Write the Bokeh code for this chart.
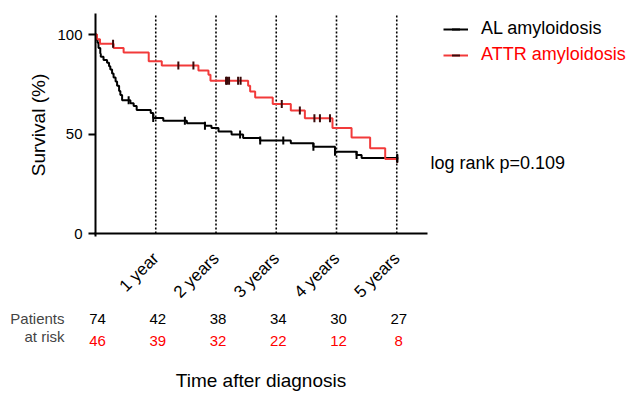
import math
import numpy as np
from bokeh.plotting import figure
from bokeh.core.properties import value
from bokeh.models import (Range1d, FixedTicker, Label, LabelSet, Legend,
                          LegendItem, ColumnDataSource)
from bokeh.embed import file_html
from bokeh.resources import INLINE

# ---------------- data (months after diagnosis, survival %) ----------------
AL_months = [0, 0.2, 0.4, 0.6, 0.95, 1.05, 1.6, 2.3, 2.7, 2.95, 3.3, 3.6, 4.0, 4.3,
             4.7, 4.95, 5.3, 6.95, 7.6, 8.2, 11.0, 11.5, 13.5, 18.2, 21.8, 23.1,
             24.5, 27.1, 29.4, 32.8, 38.9, 43.4, 47.7, 52.0, 53.0, 60.3]
AL_surv = [100, 97.3, 95.9, 93.2, 90.5, 88.8, 87.2, 85.8, 84.1, 82.4, 80.4, 78.4,
           76.4, 74.3, 71.6, 69.6, 66.9, 65.5, 64.1, 62.1, 60.6, 58.1, 56.7, 55.4,
           54.2, 53.0, 51.3, 49.7, 48.0, 46.7, 45.3, 43.6, 41.1, 39.5, 38.0, 38.0]
AL_censored = [6.6, 11.5, 17.8, 21.8, 28.8, 32.8, 37.4, 43.4, 47.7, 52.0, 60.1]

ATTR_months = [0, 0.3, 0.9, 3.6, 5.6, 10.6, 13.2, 20.5, 22.5, 22.9, 30.4, 30.8,
               31.8, 35.3, 38.9, 41.7, 47.2, 51.0, 54.7, 57.7, 60.3]
ATTR_surv = [100, 97.6, 95.3, 93.2, 90.9, 86.5, 84.4, 81.9, 79.8, 76.8, 74.3, 71.3,
             68.4, 65.1, 61.8, 57.9, 53.0, 48.3, 42.9, 37.4, 37.4]
ATTR_censored = [3.5, 16.5, 19.5, 26.0, 26.2, 26.6, 28.4, 28.9, 37.1, 40.7, 43.6,
                 44.7, 46.7, 60.1]

year_ticks = [12, 24, 36, 48, 60]
year_labels = ["1 year", "2 years", "3 years", "4 years", "5 years"]

risk_times = [0, 12, 24, 36, 48, 60]
AL_at_risk = [74, 42, 38, 34, 30, 27]
ATTR_at_risk = [46, 39, 32, 22, 12, 8]

series_names = ["AL amyloidosis", "ATTR amyloidosis"]
p_value_text = "log rank p=0.109"

# ---------------- layout ----------------
FONT = "Liberation Sans"
RED_LINE = "#F23A3A"
RED_TEXT = "#FF0000"
W, H = 630, 394
X0_PX, Y0_PX = 95.0, 233.0       # canvas pixel of (0 months, 0 %)
PXM = 60.25 / 12                  # pixels per month
PXP = 1.99                        # pixels per percent
X_END = (427 - X0_PX) / PXM       # right end of the x axis
Y_END = (Y0_PX - 13) / PXP        # top end of the y axis


def xd(px):
    return (px - X0_PX) / PXM


def yd(py):
    return (Y0_PX - py) / PXP


def step_value(months, surv, t):
    i = int(np.searchsorted(months, t, side="right")) - 1
    return surv[i]


p = figure(width=W, height=H, output_backend="svg", toolbar_location=None,
           x_range=Range1d(xd(0), xd(W)), y_range=Range1d(yd(H), yd(0)),
           min_border_left=0, min_border_right=0, min_border_top=0, min_border_bottom=0)
p.outline_line_color = None
p.grid.visible = False

# dotted year lines
p.segment(x0=year_ticks, y0=[0] * len(year_ticks), x1=year_ticks,
          y1=[Y_END] * len(year_ticks), line_color="black", line_width=1.6,
          line_dash="2 2")

# curves
al_line = p.step(AL_months, AL_surv, mode="after", line_color="black", line_width=2)
attr_line = p.step(ATTR_months, ATTR_surv, mode="after", line_color=RED_LINE, line_width=2)

al_cy = [step_value(AL_months, AL_surv, t) for t in AL_censored]
attr_cy = [step_value(ATTR_months, ATTR_surv, t) for t in ATTR_censored]
attr_ticks = p.scatter(ATTR_censored, attr_cy, marker="dash", size=8, angle=math.pi / 2,
                       line_color="#3a0a0a", line_width=2)
al_ticks = p.scatter(AL_censored, al_cy, marker="dash", size=8, angle=math.pi / 2,
                     line_color="black", line_width=2)

# axes drawn at the data origin
yax = p.yaxis[0]
yax.fixed_location = 0
yax.bounds = (-1.3, Y_END)
yax.ticker = FixedTicker(ticks=[0, 50, 100])
yax.axis_label = "Survival (%)"
yax.axis_label_text_font = FONT
yax.axis_label_text_font_size = "19px"
yax.axis_label_text_font_style = "normal"
yax.axis_label_text_color = "black"
yax.axis_label_standoff = 5
yax.major_label_text_font = FONT
yax.major_label_text_font_size = "15px"
yax.major_label_text_color = "black"
yax.axis_line_width = 2
yax.major_tick_line_width = 2
yax.major_tick_out = 7
yax.major_tick_in = 0
yax.minor_tick_line_color = None
yax.major_label_standoff = 6

xax = p.xaxis[0]
xax.fixed_location = 0
xax.bounds = (-0.2, X_END)
xax.ticker = FixedTicker(ticks=year_ticks)
xax.major_label_overrides = {t: s for t, s in zip(year_ticks, year_labels)}
xax.major_label_orientation = math.pi / 4
xax.major_label_text_font = FONT
xax.major_label_text_font_size = "17px"
xax.major_label_text_color = "black"
xax.major_label_standoff = 16
xax.axis_line_width = 2
xax.major_tick_line_color = None
xax.minor_tick_line_color = None
xax.axis_label = "Time after diagnosis"
xax.axis_label_text_font = FONT
xax.axis_label_text_font_size = "19px"
xax.axis_label_text_font_style = "normal"
xax.axis_label_text_color = "black"
xax.axis_label_standoff = 59

# legends (one per series so that label colours differ)
common = dict(padding=0, margin=0, spacing=0, glyph_width=25, glyph_height=20,
              label_height=20, label_standoff=13, border_line_alpha=0,
              background_fill_alpha=0, label_text_font=FONT,
              label_text_font_size="18px")
leg_al = Legend(items=[LegendItem(label=series_names[0], renderers=[al_line, al_ticks])],
                location=(443, H - 39), label_text_color="black", **common)
leg_attr = Legend(items=[LegendItem(label=series_names[1], renderers=[attr_line, attr_ticks])],
                  location=(443, H - 65), label_text_color=RED_TEXT, **common)
p.add_layout(leg_al)
p.add_layout(leg_attr)

# log-rank annotation
p.add_layout(Label(x=xd(430), y=yd(162), text=p_value_text, text_font=FONT,
                   text_font_size="18px", text_baseline="middle", text_color="black"))

# patients at risk table
row1_y, row2_y = yd(318), yd(340)
src = ColumnDataSource(dict(
    x=risk_times + risk_times,
    y=[row1_y] * len(risk_times) + [row2_y] * len(risk_times),
    txt=[str(v) for v in AL_at_risk] + [str(v) for v in ATTR_at_risk],
    col=["black"] * len(risk_times) + [RED_TEXT] * len(risk_times)))
p.add_layout(LabelSet(x="x", y="y", text="txt", source=src, text_color="col",
                      text_font=value(FONT), text_font_size=value("15px"),
                      text_align="center", text_baseline="middle", x_offset=2))
p.add_layout(Label(x=xd(64), y=yd(318), text="Patients", text_font=FONT,
                   text_font_size="15px", text_align="right", text_baseline="middle"))
p.add_layout(Label(x=xd(64), y=yd(336), text="at risk", text_font=FONT,
                   text_font_size="15px", text_align="right", text_baseline="middle"))

open("out.html", "w").write(file_html(p, INLINE))
